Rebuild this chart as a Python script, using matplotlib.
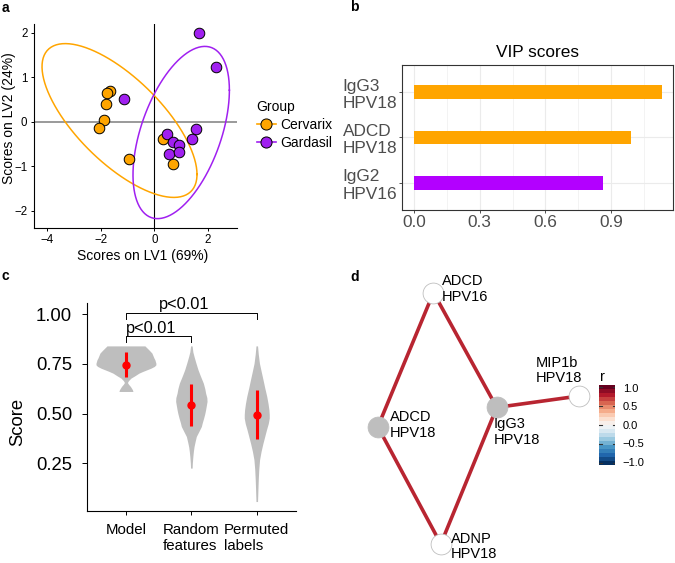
import numpy as np
import matplotlib
matplotlib.use("Agg")
import matplotlib.pyplot as plt
from matplotlib.lines import Line2D

plt.rcParams['font.family'] = ['Liberation Sans', 'DejaVu Sans']

# ---- panel a: PLS-DA scores ----
cervarix_lv1 = [-1.65, -1.75, -1.82, -1.86, -2.08, -0.94, 0.33, 0.71]
cervarix_lv2 = [0.70, 0.65, 0.41, 0.05, -0.13, -0.83, -0.39, -0.95]
gardasil_lv1 = [1.67, 2.28, -1.15, 1.55, 1.40, 0.48, 0.71, 0.93, 0.53, 0.92]
gardasil_lv2 = [2.00, 1.24, 0.52, -0.17, -0.39, -0.28, -0.45, -0.51, -0.73, -0.68]
# confidence ellipses: centre and shape matrix
cervarix_ell_center = [-1.30, 0.03]
cervarix_ell_shape = [[8.35, -3.50], [-3.50, 2.99]]
gardasil_ell_center = [1.00, -0.24]
gardasil_ell_shape = [[3.23, 1.71], [1.71, 3.75]]

# ---- panel b: VIP scores ----
vip_features = ['IgG2\nHPV16', 'ADCD\nHPV18', 'IgG3\nHPV18']
vip_scores = [0.865, 0.989, 1.134]
vip_group = ['Gardasil', 'Cervarix', 'Cervarix']

# ---- panel c: model validation ----
score_groups = ['Model', 'Random\nfeatures', 'Permuted\nlabels']
score_mean = [0.745, 0.544, 0.495]
score_low = [0.686, 0.440, 0.372]
score_high = [0.807, 0.650, 0.619]
model_vy = [0.611, 0.62, 0.636, 0.648, 0.656, 0.665, 0.678, 0.69, 0.703, 0.712, 0.72, 0.728,
            0.737, 0.745, 0.753, 0.762, 0.77, 0.78, 0.792, 0.804, 0.815, 0.825, 0.835, 0.84]
model_vw = [0.107, 0.099, 0.069, 0.038, 0.023, 0.038, 0.076, 0.137, 0.198, 0.26, 0.321, 0.382,
            0.435, 0.458, 0.458, 0.45, 0.443, 0.427, 0.412, 0.397, 0.366, 0.336, 0.305, 0.29]
random_vy = [0.226, 0.25, 0.284, 0.31, 0.334, 0.36, 0.385, 0.41, 0.435, 0.455, 0.477, 0.5, 0.519,
             0.54, 0.561, 0.58, 0.603, 0.625, 0.653, 0.69, 0.72, 0.755, 0.787, 0.81, 0.84]
random_vw = [0.012, 0.015, 0.023, 0.031, 0.041, 0.058, 0.076, 0.115, 0.153, 0.168, 0.188, 0.206, 0.218,
             0.229, 0.24, 0.237, 0.218, 0.206, 0.183, 0.137, 0.102, 0.069, 0.041, 0.023, 0.012]
perm_vy = [0.058, 0.11, 0.167, 0.22, 0.268, 0.31, 0.351, 0.385, 0.418, 0.45, 0.477, 0.495, 0.519,
           0.55, 0.586, 0.63, 0.67, 0.71, 0.753, 0.8, 0.84]
perm_vw = [0.012, 0.017, 0.023, 0.031, 0.043, 0.066, 0.095, 0.122, 0.148, 0.176, 0.191, 0.191, 0.186,
           0.173, 0.153, 0.122, 0.096, 0.069, 0.041, 0.023, 0.012]
pval_text = ['p<0.01', 'p<0.01']

# ---- panel d: correlation network ----
node_names = ['ADCD\nHPV16', 'ADCD\nHPV18', 'IgG3\nHPV18', 'MIP1b\nHPV18', 'ADNP\nHPV18']
node_x = [0.279, 0.113, 0.468, 0.714, 0.301]
node_y = [0.923, 0.465, 0.531, 0.570, 0.065]
node_selected = [False, True, True, False, False]
edge_from = [0, 0, 2, 1, 2]
edge_to = [1, 2, 3, 4, 4]
edge_r = [0.76, 0.76, 0.76, 0.76, 0.76]

W, H = 675, 563
fig = plt.figure(figsize=(W / 100, H / 100), dpi=100)


def px_axes(l, t, r, b):
    return fig.add_axes([l / W, 1 - b / H, (r - l) / W, (b - t) / H])


ORANGE = '#FFA500'
PURPLE = '#A020F0'

# ================= a =================
ax = px_axes(33.7, 24, 236.7, 227.7)
ax.axhline(0, color='#7F7F7F', lw=1.1, zorder=1)
ax.axvline(0, color='black', lw=0.8, zorder=1)
t = np.linspace(0, 2 * np.pi, 200)
for c, s, col in [(cervarix_ell_center, cervarix_ell_shape, ORANGE),
                  (gardasil_ell_center, gardasil_ell_shape, PURPLE)]:
    L = np.linalg.cholesky(np.array(s))
    pts = np.array(c)[:, None] + L @ np.vstack([np.cos(t), np.sin(t)])
    ax.plot(pts[0], pts[1], color=col, lw=1.1, zorder=2)
ax.scatter(cervarix_lv1, cervarix_lv2, s=58, color=ORANGE, edgecolor='black', lw=0.7, zorder=3)
ax.scatter(gardasil_lv1, gardasil_lv2, s=58, color=PURPLE, edgecolor='black', lw=0.7, zorder=3)
ax.set_xlim(-4.5, 3.07)
ax.set_ylim(-2.38, 2.2)
ax.set_xticks([-4, -2, 0, 2])
ax.set_yticks([-2, -1, 0, 1, 2])
ax.set_xticklabels(['\u22124', '\u22122', '0', '2'])
ax.set_yticklabels(['\u22122', '\u22121', '0', '1', '2'])
for sp in ['top', 'right']:
    ax.spines[sp].set_visible(False)
for sp in ['left', 'bottom']:
    ax.spines[sp].set_linewidth(0.8)
ax.tick_params(labelsize=8.3, length=2.5, width=0.7, pad=2)
ax.set_xlabel('Scores on LV1 (69%)', fontsize=10)
ax.set_ylabel('Scores on LV2 (24%)', fontsize=10)
ax.xaxis.set_label_coords(0.537, -0.105)
ax.yaxis.set_label_coords(-0.088, 0.536)
handles = [Line2D([0], [0], color=ORANGE, lw=1.2, marker='o', markersize=8,
                  markerfacecolor=ORANGE, markeredgecolor='black', markeredgewidth=0.7),
           Line2D([0], [0], color=PURPLE, lw=1.2, marker='o', markersize=8,
                  markerfacecolor=PURPLE, markeredgecolor='black', markeredgewidth=0.7)]
leg = ax.legend(handles, ['Cervarix', 'Gardasil'], title='Group', frameon=False,
                loc='upper left', bbox_to_anchor=(244 / W, 1 - 87 / H),
                bbox_transform=fig.transFigure, fontsize=10, title_fontsize=10,
                handlelength=1.4, handletextpad=0.3, labelspacing=0.3, alignment='left')

# ================= b =================
ax = px_axes(401.7, 65, 673.3, 210)
ypos = np.arange(1, len(vip_features) + 1)
group_colors = {'Cervarix': ORANGE, 'Gardasil': '#B300FF'}
ax.barh(ypos, vip_scores, height=0.3, color=[group_colors[g] for g in vip_group], zorder=2)
ax.set_xlim(-0.056, 1.184)
ax.set_ylim(0.4, 3.6)
ax.set_xticks([0.0, 0.3, 0.6, 0.9])
ax.set_xticks([0.15, 0.45, 0.75, 1.05], minor=True)
ax.set_xticklabels(['0.0', '0.3', '0.6', '0.9'])
ax.set_yticks(ypos)
ax.set_yticklabels(vip_features, ha='left')
ax.grid(True, which='major', color='#EBEBEB', lw=0.8, zorder=0)
ax.grid(True, which='minor', axis='x', color='#EBEBEB', lw=0.4, zorder=0)
ax.set_axisbelow(True)
for sp in ax.spines.values():
    sp.set_color('#333333')
    sp.set_linewidth(0.8)
ax.tick_params(which='major', labelsize=12.4, labelcolor='#4D4D4D', color='#333333',
               length=2.5, width=0.6)
ax.tick_params(which='minor', length=0)
ax.tick_params(axis='y', pad=40)
ax.tick_params(axis='x', pad=1)
ax.set_title('VIP scores', fontsize=12.4, pad=6)

# ================= c =================
ax = px_axes(86.7, 303.3, 296, 510.7)
for i, (vy, vw) in enumerate([(model_vy, model_vw), (random_vy, random_vw), (perm_vy, perm_vw)]):
    vw = np.array(vw)
    ax.fill_betweenx(vy, i + 1 - vw, i + 1 + vw, color='#BEBEBE', lw=0, zorder=1)
xs = np.arange(1, 4)
ax.vlines(xs, score_low, score_high, color='red', lw=2.2, zorder=3)
ax.plot(xs, score_mean, 'o', color='red', markersize=5, zorder=4)
# significance brackets
ax.plot([1, 1, 2, 2], [0.862, 0.89, 0.89, 0.862], color='black', lw=0.7, clip_on=False)
ax.plot([1, 1, 3, 3], [0.973, 1.003, 1.003, 0.973], color='black', lw=0.7, clip_on=False)
ax.text(1.386, 0.907, pval_text[0], ha='center', va='baseline', fontsize=11.8, clip_on=False)
ax.text(1.89, 1.026, pval_text[1], ha='center', va='baseline', fontsize=11.8, clip_on=False)
ax.set_xlim(0.4, 3.6)
ax.set_ylim(0.012, 1.054)
ax.set_yticks([0.25, 0.5, 0.75, 1.0])
ax.set_yticklabels(['0.25', '0.50', '0.75', '1.00'])
ax.set_xticks(xs)
ax.set_xticklabels(score_groups, multialignment='left')
for sp in ['top', 'right']:
    ax.spines[sp].set_visible(False)
for sp in ['left', 'bottom']:
    ax.spines[sp].set_linewidth(0.8)
ax.tick_params(axis='y', labelsize=13.3, length=3.5, width=0.7, pad=7)
ax.tick_params(axis='x', labelsize=10.8, length=3, width=0.7, pad=6)
ax.set_ylabel('Score', fontsize=13.3)
ax.yaxis.set_label_coords(-0.287, 0.429)

# ================= d =================
ax = px_axes(340, 270, 675, 563)
ax.set_xlim(0, 1)
ax.set_ylim(0, 1)
ax.axis('off')
cmap = plt.get_cmap('RdBu_r')
for a, b, r in zip(edge_from, edge_to, edge_r):
    ax.plot([node_x[a], node_x[b]], [node_y[a], node_y[b]], color=cmap((r + 1) / 2),
            lw=2.6, solid_capstyle='butt', zorder=1)
for x, y, sel in zip(node_x, node_y, node_selected):
    ax.plot(x, y, 'o', markersize=15, markerfacecolor='#BEBEBE' if sel else 'white',
            markeredgecolor='#BEBEBE', markeredgewidth=0.6, zorder=2)
label_dx = [0.025, 0.036, -0.008, -0.129, 0.029]
label_dy = [0.012, 0.006, -0.084, 0.086, -0.010]
for name, x, y, dx, dy in zip(node_names, node_x, node_y, label_dx, label_dy):
    ax.text(x + dx, y + dy, name, ha='left', va='center', fontsize=10.5,
            linespacing=1.1, zorder=3)

# colour bar (binned like ggplot)
cax = px_axes(599.3, 385, 615.3, 465)
nbin = 20
bins = np.linspace(-1, 1, nbin)
ext = 1 + 1 / (nbin - 1)
cax.imshow(cmap((bins[:, None] + 1) / 2), extent=[0, 1, -ext, ext], origin='lower', aspect='auto')
cax.set_xlim(0, 1)
cax.set_ylim(-ext, ext)
cax.axis('off')
for v in [-1, -0.5, 0, 0.5, 1]:
    cax.plot([0, 0.17], [v, v], color='#333333', lw=0.8)
    cax.plot([0.83, 1], [v, v], color='#333333', lw=0.8)
    lab = ('\u2212' if v < 0 else '') + f'{abs(v):.1f}'
    fig.text(622.7 / W, 1 - (425.7 - v * 37.2) / H, lab, ha='left', va='center', fontsize=8)
fig.text(600 / W, 1 - 377 / H, 'r', ha='left', va='center', fontsize=10.5)

# panel letters
for letter, x, y in [('a', 2, 8), ('b', 350, 7), ('c', 2, 276), ('d', 350, 277)]:
    fig.text(x / W, 1 - y / H, letter, fontsize=10, fontweight='bold', ha='left', va='center')

fig.savefig('out.png', dpi=100)
